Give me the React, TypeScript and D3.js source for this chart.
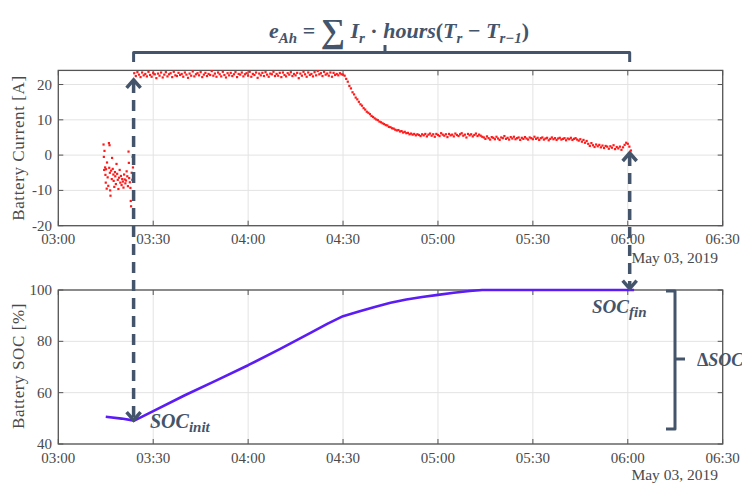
import React from "react";
import * as d3 from "d3";

// ---------- data ----------
// minutes after 03:00 on May 03, 2019
const idleCurrentPoints: [number, number][] = [
  [14.3, 3.0], [14.6, 1.2], [14.4, -0.5], [14.8, -3.5], [14.5, -4.2], [14.9, -5.6], [15.0, -7.8], [15.3, -9.5],
  [15.1, -4.0], [15.4, -2.1], [15.6, -6.3], [15.8, -8.7], [16.0, 3.4], [16.2, 2.8], [16.1, -3.6], [16.3, -5.0],
  [16.5, -11.5], [16.4, -10.0], [16.7, -4.4], [16.9, -6.8], [17.0, -0.8], [17.2, -3.9], [17.4, -5.5], [17.5, -7.3],
  [17.7, -9.0], [17.9, -4.8], [18.0, -6.0], [18.2, -8.2], [18.4, -2.5], [18.6, -5.3], [18.8, -7.0], [19.0, -9.6],
  [19.2, -6.4], [19.4, -4.2], [19.6, -7.8], [19.8, -5.9], [20.0, -8.5], [20.2, -6.8], [20.4, -7.5], [20.6, -9.2],
  [20.8, -5.5], [21.0, -6.9], [21.2, -8.0], [21.4, -7.2], [21.6, -4.6], [21.8, -6.0], [22.0, -8.8], [22.2, 1.0],
  [22.3, -2.2], [22.4, -6.5], [22.6, -7.7], [22.8, -9.3], [22.9, -13.0], [23.0, -14.5], [23.2, -5.0], [23.4, -7.0],
  [23.5, -0.5], [23.6, -3.5],
];

// charging current sampled every 0.5 min from 03:24 (minute 24) to 06:01 (minute 181)
const chargeStartMinute = 24;
const chargeStepMinutes = 0.5;
const chargeCurrent: number[] = [
  23.2, 22.4, 23.5, 22.8, 22.1, 23.4, 22.6, 23.0, 22.3, 23.6,
  22.7, 22.2, 23.3, 22.9, 21.8, 23.1, 22.5, 23.4, 22.0, 22.8,
  23.5, 22.3, 22.9, 23.2, 22.1, 23.6, 22.6, 22.4, 23.3, 22.7,
  23.0, 22.2, 23.4, 22.8, 21.9, 23.1, 22.5, 23.7, 22.3, 22.9,
  23.2, 22.6, 23.5, 22.1, 22.8, 23.3, 22.4, 23.0, 22.7, 23.8,
  22.5, 23.1, 22.2, 23.4, 22.9, 22.3, 23.6, 22.7, 22.0, 23.2,
  22.6, 23.3, 22.4, 22.9, 23.5, 22.1, 23.0, 22.8, 23.4, 22.3,
  22.9, 23.2, 22.5, 23.6, 22.2, 23.0, 22.7, 23.4, 21.9, 23.1,
  22.6, 23.3, 22.4, 23.5, 22.8, 22.2, 23.1, 22.9, 23.6, 22.4,
  23.0, 22.5, 23.3, 22.1, 23.4, 22.7, 22.3, 23.2, 22.8, 23.5,
  22.4, 23.0, 22.6, 23.3, 21.8, 23.1, 22.5, 23.6, 22.9, 22.2,
  23.4, 22.7, 23.0, 22.3, 23.5, 22.6, 23.8, 22.9, 23.2, 22.4,
  23.6, 22.8, 23.1, 22.5, 23.4, 22.2, 23.3, 22.7, 23.0, 22.6,
  23.2, 22.9, 22.8,
  22.5, 21.6, 20.8, 19.6, 18.9, 17.8, 17.2, 16.3, 15.8, 15.1,
  14.4, 14.0, 13.3, 12.9, 12.3, 12.0, 11.6, 11.1, 10.8, 10.4,
  10.1, 9.9, 9.5, 9.3, 9.0, 8.8, 8.5, 8.4, 8.0, 7.9,
  7.6, 7.5, 7.2, 7.0, 7.1, 6.7, 6.8, 6.4, 6.6, 6.2,
  6.3, 5.9, 6.1, 5.8, 6.0, 5.6, 5.9, 5.7, 5.4, 5.9,
  5.6, 6.0, 5.3, 5.8, 6.1, 5.5, 5.9, 5.2, 6.0, 5.7,
  5.4, 6.2, 5.8, 5.5, 5.9, 5.1, 6.0, 5.6, 5.8, 5.3,
  6.1, 5.7, 5.4, 5.9, 6.2, 5.5, 5.8, 5.0, 6.0, 5.6,
  5.9, 5.3, 5.7, 6.1, 5.4, 5.8, 5.5, 5.2,
  5.0, 4.6, 5.3, 4.8, 4.4, 5.1, 4.9, 4.5, 5.2, 4.7,
  4.3, 5.0, 4.8, 5.4, 4.6, 4.9, 4.4, 5.1, 4.7, 5.2,
  4.5, 4.8, 5.0, 4.3, 4.9, 4.6, 5.1, 4.7, 4.4, 5.0,
  4.8, 4.5, 5.2, 4.6, 4.9, 4.3, 4.8, 5.0, 4.4, 4.7,
  4.9, 4.2, 4.6, 5.0, 4.5, 4.8, 4.3, 4.7, 4.9, 4.4,
  4.6, 4.8, 4.2, 4.7, 4.5, 4.9, 4.3, 4.6, 4.8, 4.4,
  4.1, 4.5, 3.8, 4.3, 3.5, 4.0,
  3.2, 2.6, 3.4, 2.8, 2.3, 3.0, 2.5, 2.9, 2.2, 2.7,
  2.0, 2.6, 2.4, 1.8, 2.5, 2.1, 2.8, 1.7, 2.3, 1.9,
  2.4, 1.5, 2.2, 2.9, 3.5, 3.2, 2.4, 1.3,
];

const socMinutes = [15, 20, 24, 30, 40, 50, 60, 70, 80, 85, 90, 95, 100, 105, 110, 115, 120, 125, 130, 134, 150, 170, 182];
const socValues = [50.6, 49.9, 49.1, 52.8, 59.0, 64.8, 70.7, 77.0, 83.5, 86.8, 89.8, 91.6, 93.4, 95.0, 96.3, 97.3, 98.1, 98.9, 99.6, 100, 100, 100, 100];

const currentTicks = [-20, -10, 0, 10, 20];
const socTicks = [40, 60, 80, 100];
const dateLabel = "May 03, 2019";
const initMinute = 23.8;
const finMinute = 180.6;

// ---------- helpers ----------
const base = new Date(2019, 4, 3, 3, 0, 0);
const at = (m: number) => new Date(base.getTime() + m * 60000);

const X0 = 58.3, X1 = 722.7;
const x = d3.scaleTime().domain([at(0), at(210)]).range([X0, X1]);
const yTop = d3.scaleLinear().domain([-20, 24]).range([225.7, 70.4]);
const yBot = d3.scaleLinear().domain([40, 100]).range([444, 290]);
const xTicks = x.ticks(d3.timeMinute.every(30) as any);
const fmt = d3.timeFormat("%H:%M");

const AX = "#555";
const GRID = "#e3e3e3";
const TXT = "#4a4a4a";
const ANN = "#44546A";
const serif = "'Liberation Serif', 'DejaVu Serif', serif";
const mathFont = "'Liberation Serif', 'DejaVu Serif', serif";

function Axes({ y, ticks, label, labelY, tickLabelY, dateY }: any) {
  const [r0, r1] = y.range();
  const top = Math.min(r0, r1), bot = Math.max(r0, r1);
  return (
    <g>
      {xTicks.map((t, i) => (
        <line key={"gx" + i} x1={x(t)} x2={x(t)} y1={top} y2={bot} stroke={GRID} strokeWidth={1} />
      ))}
      {ticks.map((v: number, i: number) => (
        <line key={"gy" + i} x1={X0} x2={X1} y1={y(v)} y2={y(v)} stroke={GRID} strokeWidth={1} />
      ))}
      <rect x={X0} y={top} width={X1 - X0} height={bot - top} fill="none" stroke={AX} strokeWidth={1.3} />
      {xTicks.map((t, i) => (
        <g key={"tx" + i}>
          <line x1={x(t)} x2={x(t)} y1={bot} y2={bot - 5} stroke={AX} strokeWidth={1} />
          <line x1={x(t)} x2={x(t)} y1={top} y2={top + 5} stroke={AX} strokeWidth={1} />
          <text x={x(t)} y={tickLabelY} textAnchor="middle" fontFamily={serif} fontSize={15} fill={TXT}>
            {fmt(t)}
          </text>
        </g>
      ))}
      {ticks.map((v: number, i: number) => (
        <g key={"ty" + i}>
          <line x1={X0} x2={X0 + 5} y1={y(v)} y2={y(v)} stroke={AX} strokeWidth={1} />
          <line x1={X1} x2={X1 - 5} y1={y(v)} y2={y(v)} stroke={AX} strokeWidth={1} />
          <text x={52} y={y(v) + 5} textAnchor="end" fontFamily={serif} fontSize={15} fill={TXT}>
            {v}
          </text>
        </g>
      ))}
      <text
        transform={`translate(24,${labelY}) rotate(-90)`}
        textAnchor="middle"
        fontFamily={serif}
        fontSize={17}
        letterSpacing={0.6}
        fill={TXT}
      >
        {label}
      </text>
      <text x={718} y={dateY} textAnchor="end" fontFamily={serif} fontSize={15.5} fill={TXT}>
        {dateLabel}
      </text>
    </g>
  );
}

function chevron(cx: number, tip: number, dir: "up" | "down") {
  const s = dir === "up" ? 1 : -1;
  return `M${cx - 7},${tip + 8 * s} L${cx},${tip} L${cx + 7},${tip + 8 * s}`;
}

export default function App() {
  const chargePts = chargeCurrent.map((v, i) => [chargeStartMinute + i * chargeStepMinutes, v] as [number, number]);
  const allPts = [...idleCurrentPoints, ...chargePts];
  const socLine = d3
    .line<number>()
    .x((_, i) => x(at(socMinutes[i])))
    .y((d) => yBot(d));

  const xi = x(at(initMinute));
  const xf = x(at(finMinute));
  const leftTip = yTop(21.3);
  const leftBottomTip = yBot(49.3);
  const rightTip = yTop(0.6);
  const rightBottomTip = yBot(100.5);

  return (
    <svg width={742} height={486} style={{ position: "absolute", left: 0, top: 0, background: "#fff" }}>
      <rect width={742} height={486} fill="#fff" />
      <Axes y={yTop} ticks={currentTicks} label="Battery Current [A]" labelY={148} tickLabelY={244} dateY={263} />
      <Axes y={yBot} ticks={socTicks} label="Battery SOC [%]" labelY={366} tickLabelY={463} dateY={480} />

      {allPts.map(([m, v], i) => (
        <rect key={"p" + i} x={x(at(m)) - 1.1} y={yTop(v) - 1.1} width={2.2} height={2.2} fill="#ff1a1a" />
      ))}

      <path d={socLine(socValues) || ""} fill="none" stroke="#5b1cf6" strokeWidth={2.6} strokeLinejoin="round" />

      {/* annotations */}
      <g stroke={ANN} fill="none" strokeWidth={3.5}>
        <line x1={xi} x2={xi} y1={leftTip + 2} y2={leftBottomTip - 2} strokeDasharray="11 7" />
        <path d={chevron(xi, leftTip, "up")} strokeLinejoin="miter" />
        <path d={chevron(xi, leftBottomTip, "down")} strokeLinejoin="miter" />
        <line x1={xf} x2={xf} y1={rightTip + 2} y2={rightBottomTip - 2} strokeDasharray="11 7" />
        <path d={chevron(xf, rightTip, "up")} strokeLinejoin="miter" />
        <path d={chevron(xf, rightBottomTip, "down")} strokeLinejoin="miter" />
      </g>
      <g stroke={ANN} fill="none" strokeWidth={3}>
        <path d={`M${xi},62 L${xi},52.5 L${xf},52.5 L${xf},62`} strokeLinejoin="round" />
        <line x1={385} x2={385} y1={52.5} y2={45} />
        <path d={`M666,291 L675,291 L675,429 L666,429`} strokeLinejoin="round" />
        <line x1={675} x2={685} y1={359} y2={359} />
      </g>

      <text x={269} y={38} fontFamily={mathFont} fontWeight="bold" fontStyle="italic" fontSize={22} fill={ANN}>
        <tspan>e</tspan>
        <tspan dy={5} fontSize={15}>Ah</tspan>
        <tspan dy={-5} fontStyle="normal">{" = "}</tspan>
        <tspan dy={4} fontSize={34} fontStyle="normal">∑</tspan>
        <tspan dy={-4}>{" I"}</tspan>
        <tspan dy={5} fontSize={15}>r</tspan>
        <tspan dy={-5} fontStyle="normal">{" · "}</tspan>
        <tspan>hours</tspan>
        <tspan fontStyle="normal">(</tspan>
        <tspan>T</tspan>
        <tspan dy={5} fontSize={15}>r</tspan>
        <tspan dy={-5} fontStyle="normal">{" − "}</tspan>
        <tspan>T</tspan>
        <tspan dy={5} fontSize={15}>r−1</tspan>
        <tspan dy={-5} fontStyle="normal">)</tspan>
      </text>

      <text x={150} y={428} fontFamily={mathFont} fontWeight="bold" fontStyle="italic" fontSize={20} fill={ANN}>
        <tspan>SOC</tspan>
        <tspan dy={4} fontSize={15}>init</tspan>
      </text>
      <text x={592} y={313} fontFamily={mathFont} fontWeight="bold" fontStyle="italic" fontSize={19} fill={ANN}>
        <tspan>SOC</tspan>
        <tspan dy={4} fontSize={15}>fin</tspan>
      </text>
      <text x={697} y={366} fontFamily={mathFont} fontWeight="bold" fontStyle="italic" fontSize={18} fill={ANN}>
        <tspan fontStyle="normal">Δ</tspan>
        <tspan>SOC</tspan>
      </text>
    </svg>
  );
}
